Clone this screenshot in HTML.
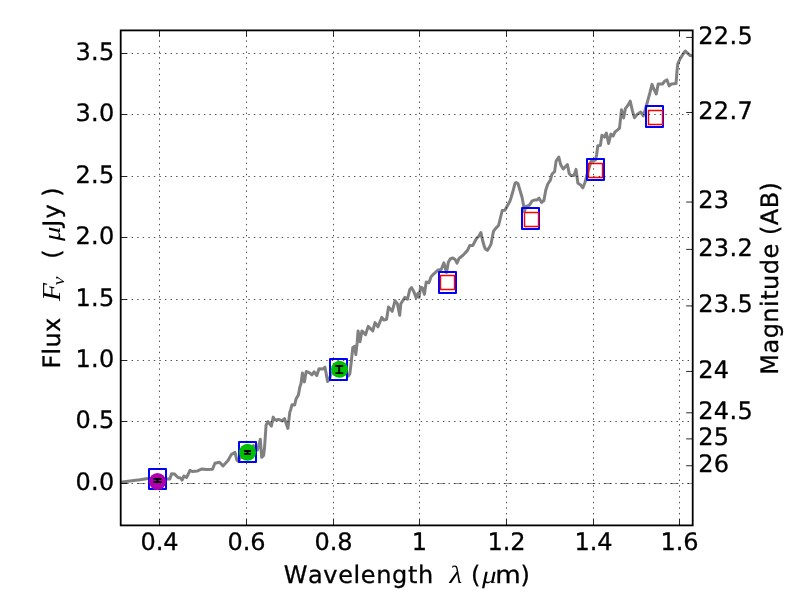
<!DOCTYPE html>
<html lang="en"><head><meta charset="utf-8"><title>SED plot</title>
<style>
html,body{margin:0;padding:0;background:#fff;width:800px;height:600px;overflow:hidden}
svg{display:block;position:absolute;left:0;top:0}
text{font-family:"DejaVu Sans","Liberation Sans",sans-serif;fill:#000;stroke:#000;stroke-width:0.3px;font-kerning:none;text-rendering:geometricPrecision}
.t{font-size:24px}
.m{font-family:"Liberation Serif","DejaVu Serif",serif;font-style:italic}
</style></head><body>
<svg width="800" height="600" viewBox="0 0 800 600">
<rect x="0" y="0" width="800" height="600" fill="#fff"/>
<path d="M120.5 482.3 L130.0 481.1 L140.0 479.8 L148.0 478.5 L157.0 478.6 L167.5 479.0 L169.8 479.0 L171.6 473.8 L174.6 474.1 L178.0 477.5 L180.6 477.9 L182.1 480.1 L184.0 476.0 L186.6 477.5 L190.0 470.4 L192.2 471.5 L197.5 470.9 L202.0 468.9 L206.5 469.6 L212.5 469.2 L214.9 463.2 L219.5 462.3 L223.0 465.9 L228.2 460.2 L231.2 454.6 L235.0 452.4 L236.9 460.2 L238.4 461.4 L240.0 458.0 L244.0 455.0 L248.0 452.0 L251.0 449.0 L253.3 445.6 L255.5 447.5 L257.5 449.8 L260.3 439.3 L261.7 457.3 L263.6 455.5 L264.5 448.0 L266.1 425.0 L268.0 421.6 L271.4 426.1 L273.2 417.1 L274.8 420.1 L278.5 419.4 L282.2 420.9 L284.5 418.6 L287.9 428.4 L289.8 412.2 L290.6 410.0 L292.0 404.8 L294.6 405.1 L296.1 398.8 L298.4 395.0 L299.9 386.8 L301.0 383.8 L302.4 372.9 L304.4 381.9 L306.2 371.4 L309.6 372.9 L311.9 374.8 L314.1 371.8 L316.8 375.5 L319.0 368.8 L322.8 369.1 L325.0 367.2 L327.6 381.5 L329.1 380.0 L331.0 374.0 L334.0 371.0 L338.0 369.0 L342.0 370.0 L345.0 372.0 L347.0 375.0 L348.2 376.0 L349.8 373.8 L351.2 362.5 L352.8 347.5 L354.6 346.4 L355.8 354.6 L357.2 342.2 L358.1 330.9 L360.0 341.8 L361.9 330.9 L365.6 334.6 L368.2 326.4 L372.8 330.9 L375.0 322.6 L378.0 326.8 L381.8 317.4 L384.0 320.0 L386.6 319.2 L388.5 307.0 L392.2 311.3 L395.0 300.8 L397.4 303.8 L399.7 315.3 L400.8 303.8 L404.9 297.4 L407.5 299.2 L409.8 289.5 L411.6 287.6 L413.9 291.8 L416.1 297.8 L418.0 293.2 L419.1 297.4 L420.6 287.2 L422.5 288.0 L424.4 294.4 L426.2 282.0 L428.9 282.8 L431.1 276.8 L433.8 273.8 L436.0 271.8 L438.2 269.9 L441.2 269.5 L443.9 262.8 L446.5 272.5 L448.4 262.0 L450.2 259.0 L452.9 257.9 L455.1 259.4 L457.0 263.1 L459.2 258.2 L463.0 255.2 L467.5 250.4 L469.8 245.5 L472.8 245.5 L476.6 238.3 L479.0 236.0 L480.9 232.6 L482.5 240.0 L484.3 246.5 L485.5 249.0 L487.4 250.4 L490.0 246.2 L491.0 244.2 L492.5 236.0 L493.6 231.1 L495.9 228.1 L498.5 225.5 L500.4 218.0 L502.2 210.5 L504.9 210.2 L507.5 205.5 L509.8 201.5 L510.9 198.2 L513.1 190.8 L515.0 183.2 L516.1 182.5 L518.0 183.6 L519.9 190.0 L522.1 197.5 L523.6 205.8 L524.4 211.8 L525.9 206.5 L529.2 205.4 L532.2 200.9 L534.5 200.1 L536.8 200.1 L539.0 198.2 L541.6 202.4 L543.9 200.5 L545.8 190.0 L547.8 184.0 L550.4 180.2 L552.0 174.0 L554.6 171.6 L556.1 161.1 L558.8 157.0 L560.6 164.5 L563.2 169.0 L567.4 164.5 L569.2 173.5 L570.8 175.4 L574.1 175.4 L576.0 169.4 L577.9 183.2 L580.5 184.8 L582.8 187.8 L585.0 182.5 L586.9 175.0 L589.5 166.8 L591.0 161.5 L595.5 160.0 L596.6 155.0 L597.8 145.8 L600.4 145.4 L601.9 135.2 L604.5 137.1 L606.4 133.0 L608.6 143.5 L610.9 134.1 L613.1 136.0 L615.0 131.9 L618.0 129.6 L619.5 128.2 L621.5 109.8 L623.6 118.0 L625.4 108.6 L628.0 105.2 L630.2 101.1 L632.5 111.2 L634.4 117.7 L637.0 114.6 L640.8 112.0 L643.4 115.8 L645.2 109.8 L647.1 103.0 L649.8 93.2 L652.0 84.4 L653.9 89.2 L656.3 94.0 L658.2 84.0 L662.5 84.0 L664.8 81.0 L667.0 79.9 L669.2 85.9 L671.5 84.0 L676.0 83.6 L677.1 69.8 L677.9 63.4 L680.5 58.1 L683.1 54.0 L685.4 51.0 L688.0 53.6 L690.2 55.5 L692.0 55.5" fill="none" stroke="#808080" stroke-width="3" stroke-linejoin="round" stroke-linecap="butt"/>
<rect x="149.0" y="469.0" width="17.0" height="20.0" fill="none" stroke="#0000ff" stroke-width="2" stroke-linejoin="round"/>
<rect x="239.0" y="442.0" width="17.0" height="20.0" fill="none" stroke="#0000ff" stroke-width="2" stroke-linejoin="round"/>
<rect x="330.0" y="359.0" width="17.0" height="21.0" fill="none" stroke="#0000ff" stroke-width="2" stroke-linejoin="round"/>
<rect x="439.0" y="272.0" width="17.0" height="21.0" fill="none" stroke="#0000ff" stroke-width="2" stroke-linejoin="round"/>
<rect x="522.0" y="208.0" width="17.0" height="21.0" fill="none" stroke="#0000ff" stroke-width="2" stroke-linejoin="round"/>
<rect x="587.0" y="159.0" width="17.0" height="21.0" fill="none" stroke="#0000ff" stroke-width="2" stroke-linejoin="round"/>
<rect x="646.0" y="106.0" width="17.0" height="21.0" fill="none" stroke="#0000ff" stroke-width="2" stroke-linejoin="round"/>
<rect x="440.5" y="275.5" width="14.0" height="14.0" fill="none" stroke="#ff0000" stroke-width="1.4" stroke-linejoin="round"/>
<rect x="524.5" y="212.5" width="14.0" height="14.0" fill="none" stroke="#ff0000" stroke-width="1.4" stroke-linejoin="round"/>
<rect x="588.5" y="163.5" width="14.0" height="14.0" fill="none" stroke="#ff0000" stroke-width="1.4" stroke-linejoin="round"/>
<rect x="648.5" y="110.5" width="14.0" height="14.0" fill="none" stroke="#ff0000" stroke-width="1.4" stroke-linejoin="round"/>
<line x1="120.5" y1="483.5" x2="692.5" y2="483.5" stroke="#000" stroke-width="0.7" stroke-dasharray="8.33 8.33" opacity="0.6"/>
<line x1="159.50" y1="525.5" x2="159.50" y2="30.5" stroke="#000" stroke-width="0.7" stroke-dasharray="1.4 4.16"/>
<line x1="246.50" y1="525.5" x2="246.50" y2="30.5" stroke="#000" stroke-width="0.7" stroke-dasharray="1.4 4.16"/>
<line x1="333.50" y1="525.5" x2="333.50" y2="30.5" stroke="#000" stroke-width="0.7" stroke-dasharray="1.4 4.16"/>
<line x1="419.50" y1="525.5" x2="419.50" y2="30.5" stroke="#000" stroke-width="0.7" stroke-dasharray="1.4 4.16"/>
<line x1="506.50" y1="525.5" x2="506.50" y2="30.5" stroke="#000" stroke-width="0.7" stroke-dasharray="1.4 4.16"/>
<line x1="593.50" y1="525.5" x2="593.50" y2="30.5" stroke="#000" stroke-width="0.7" stroke-dasharray="1.4 4.16"/>
<line x1="679.50" y1="525.5" x2="679.50" y2="30.5" stroke="#000" stroke-width="0.7" stroke-dasharray="1.4 4.16"/>
<line x1="120.5" y1="483.50" x2="692.5" y2="483.50" stroke="#000" stroke-width="0.7" stroke-dasharray="1.4 4.16"/>
<line x1="120.5" y1="421.50" x2="692.5" y2="421.50" stroke="#000" stroke-width="0.7" stroke-dasharray="1.4 4.16"/>
<line x1="120.5" y1="360.50" x2="692.5" y2="360.50" stroke="#000" stroke-width="0.7" stroke-dasharray="1.4 4.16"/>
<line x1="120.5" y1="299.50" x2="692.5" y2="299.50" stroke="#000" stroke-width="0.7" stroke-dasharray="1.4 4.16"/>
<line x1="120.5" y1="237.50" x2="692.5" y2="237.50" stroke="#000" stroke-width="0.7" stroke-dasharray="1.4 4.16"/>
<line x1="120.5" y1="176.50" x2="692.5" y2="176.50" stroke="#000" stroke-width="0.7" stroke-dasharray="1.4 4.16"/>
<line x1="120.5" y1="114.50" x2="692.5" y2="114.50" stroke="#000" stroke-width="0.7" stroke-dasharray="1.4 4.16"/>
<line x1="120.5" y1="53.50" x2="692.5" y2="53.50" stroke="#000" stroke-width="0.7" stroke-dasharray="1.4 4.16"/>
<circle cx="157.5" cy="481.5" r="8.55" fill="#ae00ae"/>
<path d="M157.5 478.9 V482.0 M153.4 478.9 H161.6 M153.4 482.0 H161.6" stroke="#000" stroke-width="1.9" fill="none"/>
<circle cx="247.5" cy="452.3" r="8.55" fill="#00be00"/>
<path d="M247.5 451.0 V453.9 M244.0 451.0 H251.0 M244.0 453.9 H251.0" stroke="#000" stroke-width="1.9" fill="none"/>
<circle cx="339.5" cy="369.2" r="8.55" fill="#00be00"/>
<path d="M339.2 366.0 V373.1 M335.2 366.0 H343.2 M335.2 373.1 H343.2" stroke="#000" stroke-width="1.9" fill="none"/>
<rect x="120.7" y="30.4" width="572.0" height="495.0" fill="none" stroke="#000" stroke-width="1.8"/>
<path d="M159.50 525.5 v-6.3 M159.50 30.5 v6.3" stroke="#000" stroke-width="0.85"/>
<path d="M246.50 525.5 v-6.3 M246.50 30.5 v6.3" stroke="#000" stroke-width="0.85"/>
<path d="M333.50 525.5 v-6.3 M333.50 30.5 v6.3" stroke="#000" stroke-width="0.85"/>
<path d="M419.50 525.5 v-6.3 M419.50 30.5 v6.3" stroke="#000" stroke-width="0.85"/>
<path d="M506.50 525.5 v-6.3 M506.50 30.5 v6.3" stroke="#000" stroke-width="0.85"/>
<path d="M593.50 525.5 v-6.3 M593.50 30.5 v6.3" stroke="#000" stroke-width="0.85"/>
<path d="M679.50 525.5 v-6.3 M679.50 30.5 v6.3" stroke="#000" stroke-width="0.85"/>
<path d="M120.5 483.50 h6.3" stroke="#000" stroke-width="0.85"/>
<path d="M120.5 421.50 h6.3" stroke="#000" stroke-width="0.85"/>
<path d="M120.5 360.50 h6.3" stroke="#000" stroke-width="0.85"/>
<path d="M120.5 299.50 h6.3" stroke="#000" stroke-width="0.85"/>
<path d="M120.5 237.50 h6.3" stroke="#000" stroke-width="0.85"/>
<path d="M120.5 176.50 h6.3" stroke="#000" stroke-width="0.85"/>
<path d="M120.5 114.50 h6.3" stroke="#000" stroke-width="0.85"/>
<path d="M120.5 53.50 h6.3" stroke="#000" stroke-width="0.85"/>
<path d="M692.5 37.42 h-6.3" stroke="#000" stroke-width="0.85"/>
<path d="M692.5 112.47 h-6.3" stroke="#000" stroke-width="0.85"/>
<path d="M692.5 202.04 h-6.3" stroke="#000" stroke-width="0.85"/>
<path d="M692.5 249.40 h-6.3" stroke="#000" stroke-width="0.85"/>
<path d="M692.5 305.91 h-6.3" stroke="#000" stroke-width="0.85"/>
<path d="M692.5 371.45 h-6.3" stroke="#000" stroke-width="0.85"/>
<path d="M692.5 412.80 h-6.3" stroke="#000" stroke-width="0.85"/>
<path d="M692.5 438.89 h-6.3" stroke="#000" stroke-width="0.85"/>
<path d="M692.5 465.74 h-6.3" stroke="#000" stroke-width="0.85"/>
<text class="t" x="159.5" y="550.0" text-anchor="middle">0.4</text>
<text class="t" x="246.5" y="550.0" text-anchor="middle">0.6</text>
<text class="t" x="333.5" y="550.0" text-anchor="middle">0.8</text>
<text class="t" x="419.5" y="550.0" text-anchor="middle">1</text>
<text class="t" x="506.5" y="550.0" text-anchor="middle">1.2</text>
<text class="t" x="593.5" y="550.0" text-anchor="middle">1.4</text>
<text class="t" x="679.5" y="550.0" text-anchor="middle">1.6</text>
<text class="t" x="114.5" y="489.8" text-anchor="end" style="letter-spacing:0.25px">0.0</text>
<text class="t" x="114.5" y="427.8" text-anchor="end" style="letter-spacing:0.25px">0.5</text>
<text class="t" x="114.5" y="366.8" text-anchor="end" style="letter-spacing:0.25px">1.0</text>
<text class="t" x="114.5" y="305.8" text-anchor="end" style="letter-spacing:0.25px">1.5</text>
<text class="t" x="114.5" y="243.8" text-anchor="end" style="letter-spacing:0.25px">2.0</text>
<text class="t" x="114.5" y="182.8" text-anchor="end" style="letter-spacing:0.25px">2.5</text>
<text class="t" x="114.5" y="120.8" text-anchor="end" style="letter-spacing:0.25px">3.0</text>
<text class="t" x="114.5" y="59.8" text-anchor="end" style="letter-spacing:0.25px">3.5</text>
<text class="t" x="698.2" y="43.7" text-anchor="start" style="letter-spacing:0.4px">22.5</text>
<text class="t" x="698.2" y="118.8" text-anchor="start" style="letter-spacing:0.4px">22.7</text>
<text class="t" x="698.2" y="208.3" text-anchor="start" style="letter-spacing:0.4px">23</text>
<text class="t" x="698.2" y="255.7" text-anchor="start" style="letter-spacing:0.4px">23.2</text>
<text class="t" x="698.2" y="312.2" text-anchor="start" style="letter-spacing:0.4px">23.5</text>
<text class="t" x="698.2" y="377.8" text-anchor="start" style="letter-spacing:0.4px">24</text>
<text class="t" x="698.2" y="419.1" text-anchor="start" style="letter-spacing:0.4px">24.5</text>
<text class="t" x="698.2" y="445.2" text-anchor="start" style="letter-spacing:0.4px">25</text>
<text class="t" x="698.2" y="472.0" text-anchor="start" style="letter-spacing:0.4px">26</text>
<text transform="translate(283.65,582.50)" style="font-family:'DejaVu Sans','Liberation Sans',sans-serif;font-style:normal;font-size:24px;letter-spacing:0.622px" xml:space="preserve">Wavelength</text>
<text transform="translate(449.61,582.75) scale(1.2195,1.0358)" style="font-family:'Liberation Serif','DejaVu Serif',serif;font-style:italic;font-size:24px;stroke:none" xml:space="preserve">λ</text>
<text transform="translate(471.02,582.50)" style="font-family:'DejaVu Sans','Liberation Sans',sans-serif;font-style:normal;font-size:24px" xml:space="preserve">(</text>
<text transform="translate(481.95,582.51) scale(1.2133,1.0188)" style="font-family:'Liberation Serif','DejaVu Serif',serif;font-style:italic;font-size:24px;stroke:none" xml:space="preserve">μ</text>
<text transform="translate(495.35,582.50) scale(1.0895,1.0000)" style="font-family:'DejaVu Sans','Liberation Sans',sans-serif;font-style:normal;font-size:24px" xml:space="preserve">m</text>
<text transform="translate(520.38,582.50)" style="font-family:'DejaVu Sans','Liberation Sans',sans-serif;font-style:normal;font-size:24px" xml:space="preserve">)</text>
<text transform="translate(60.00,366.20) rotate(-90) translate(-2.25,0.00)" style="font-family:'DejaVu Sans','Liberation Sans',sans-serif;font-style:normal;font-size:24px;letter-spacing:0.250px" xml:space="preserve">Flux</text>
<text transform="translate(60.00,366.20) rotate(-90) translate(65.20,0.00) scale(1.2203,1.0794)" style="font-family:'Liberation Serif','DejaVu Serif',serif;font-style:italic;font-size:24px;stroke:none" xml:space="preserve">F</text>
<text transform="translate(60.00,366.20) rotate(-90) translate(81.00,3.82) scale(0.8095,0.7111)" style="font-family:'Liberation Serif','DejaVu Serif',serif;font-style:italic;font-size:24px;stroke:none" xml:space="preserve">ν</text>
<text transform="translate(60.00,366.20) rotate(-90) translate(107.33,0.00)" style="font-family:'DejaVu Sans','Liberation Sans',sans-serif;font-style:normal;font-size:24px" xml:space="preserve">(</text>
<text transform="translate(60.00,366.20) rotate(-90) translate(125.20,0.00) scale(1.2000,1.0000)" style="font-family:'Liberation Serif','DejaVu Serif',serif;font-style:italic;font-size:24px;stroke:none" xml:space="preserve">μ</text>
<text transform="translate(60.00,366.20) rotate(-90) translate(139.45,0.00)" style="font-family:'DejaVu Sans','Liberation Sans',sans-serif;font-style:normal;font-size:24px" xml:space="preserve">J</text>
<text transform="translate(60.00,366.20) rotate(-90) translate(147.68,0.00)" style="font-family:'DejaVu Sans','Liberation Sans',sans-serif;font-style:normal;font-size:24px" xml:space="preserve">y</text>
<text transform="translate(60.00,366.20) rotate(-90) translate(169.57,0.00)" style="font-family:'DejaVu Sans','Liberation Sans',sans-serif;font-style:normal;font-size:24px" xml:space="preserve">)</text>
<text transform="translate(778.00,372.50) rotate(-90) translate(-2.25,0.00)" style="font-family:'DejaVu Sans','Liberation Sans',sans-serif;font-style:normal;font-size:24px;letter-spacing:0.485px" xml:space="preserve">Magnitude (AB)</text>
</svg>
</body></html>
